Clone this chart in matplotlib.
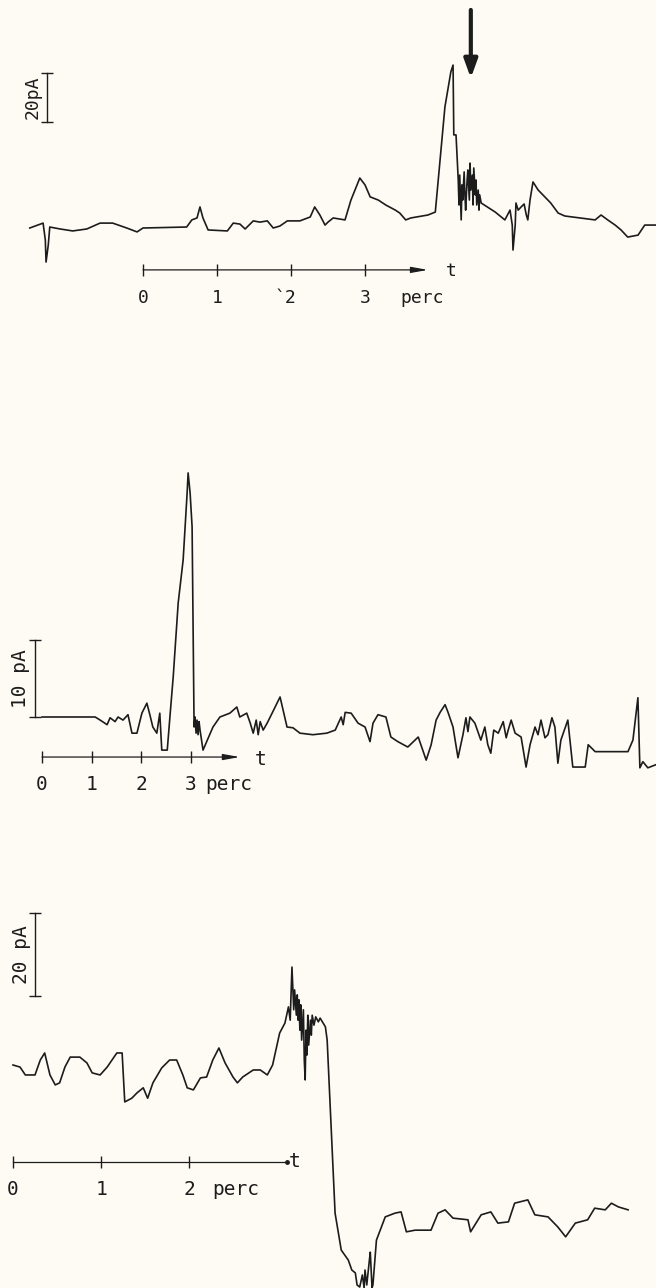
import numpy as np
import matplotlib
matplotlib.use('Agg')
import matplotlib.pyplot as plt

# --- data: (time in s, current in pA) ---
trace1 = [(-1.53, 0.0), (-1.35, 2.0), (-1.32, -4.9), (-1.31, -13.9), (-1.28, -6.9), (-1.26, 0.4),
          (-1.12, -0.4), (-0.95, -1.2), (-0.76, -0.4), (-0.58, 2.0), (-0.41, 2.0), (-0.22, 0.0),
          (-0.08, -1.6), (0.00, 0.0), (0.59, 0.4), (0.66, 3.3), (0.73, 4.1), (0.77, 8.6), (0.81, 4.1),
          (0.88, -0.8), (1.14, -1.2), (1.22, 2.0), (1.31, 1.6), (1.38, -0.4), (1.49, 2.9), (1.58, 2.4),
          (1.68, 2.9), (1.76, 0.0), (1.85, 0.8), (1.95, 2.9), (2.12, 2.9), (2.26, 4.5), (2.32, 8.6),
          (2.39, 5.3), (2.46, 1.2), (2.50, 2.4), (2.57, 4.1), (2.73, 3.3), (2.81, 11.4), (2.93, 20.4),
          (3.00, 17.6), (3.07, 12.7), (3.18, 11.4), (3.28, 9.4), (3.41, 7.3), (3.47, 6.1), (3.55, 3.3),
          (3.62, 4.1), (3.85, 5.3), (3.95, 6.5), (4.08, 49.4), (4.16, 63.7), (4.19, 66.5), (4.20, 38.0),
          (4.23, 38.0), (4.26, 19.6), (4.27, 9.4), (4.28, 21.6), (4.30, 3.3), (4.31, 17.6), (4.32, 11.4),
          (4.34, 22.9), (4.35, 13.5), (4.36, 7.3), (4.38, 19.6), (4.39, 23.7), (4.41, 11.4), (4.42, 26.5),
          (4.43, 15.5), (4.45, 21.6), (4.46, 9.4), (4.47, 24.5), (4.49, 13.5), (4.50, 19.6), (4.51, 9.4),
          (4.53, 15.5), (4.54, 7.3), (4.55, 13.5), (4.57, 10.2), (4.76, 6.5), (4.89, 3.3), (4.96, 7.3),
          (4.99, 1.2), (5.00, -9.0), (5.03, 1.2), (5.04, 10.2), (5.07, 7.3), (5.11, 8.6), (5.15, 9.8),
          (5.18, 5.3), (5.20, 3.3), (5.23, 11.4), (5.27, 18.8), (5.34, 15.5), (5.43, 12.7), (5.51, 10.2),
          (5.61, 6.1), (5.70, 4.9), (6.11, 3.3), (6.19, 5.3), (6.28, 3.3), (6.38, 1.2), (6.46, -0.8),
          (6.55, -3.7), (6.69, -2.9), (6.78, 1.2), (6.93, 1.2)]

trace2 = [(0.00, 0.0), (1.07, 0.0), (1.17, -0.4), (1.31, -1.0), (1.37, -0.1), (1.47, -0.6), (1.53, 0.0),
          (1.63, -0.4), (1.73, 0.3), (1.81, -2.1), (1.91, -2.1), (2.01, 0.5), (2.11, 1.8), (2.17, 0.3),
          (2.23, -1.3), (2.31, -2.1), (2.37, 0.5), (2.41, -4.3), (2.52, -4.3), (2.58, 0.5), (2.64, 5.2),
          (2.74, 14.8), (2.84, 20.4), (2.92, 29.1), (2.94, 31.7), (2.98, 29.1), (3.02, 24.7), (3.04, 11.7),
          (3.06, -1.3), (3.08, 0.0), (3.10, -2.1), (3.12, -0.4), (3.14, -2.3), (3.16, -0.6), (3.18, -1.7),
          (3.24, -4.3), (3.44, -1.3), (3.58, 0.0), (3.78, 0.5), (3.92, 1.3), (3.98, 0.0), (4.12, 0.5),
          (4.19, -0.8), (4.25, -2.1), (4.31, -0.4), (4.35, -2.3), (4.39, -0.6), (4.45, -1.7), (4.53, -0.8),
          (4.63, 0.5), (4.79, 2.6), (4.93, -1.3), (5.05, -1.4), (5.19, -2.1), (5.45, -2.3), (5.73, -2.1),
          (5.90, -1.7), (6.02, 0.0), (6.06, -1.0), (6.10, 0.6), (6.22, 0.5), (6.36, -0.8), (6.50, -1.3),
          (6.60, -3.2), (6.66, -0.8), (6.76, 0.3), (6.92, 0.0), (7.02, -2.6), (7.16, -3.2), (7.36, -3.9),
          (7.57, -2.6), (7.73, -5.6), (7.83, -3.6), (7.93, -0.4), (8.01, 0.6), (8.11, 1.6), (8.17, 0.6),
          (8.27, -1.3), (8.37, -5.3), (8.47, -2.3), (8.53, -0.1), (8.57, -1.9), (8.61, 0.0), (8.71, -0.8),
          (8.83, -3.0), (8.91, -1.3), (8.97, -3.6), (9.03, -4.7), (9.09, -1.7), (9.18, -2.1), (9.28, -0.6),
          (9.34, -2.7), (9.38, -1.7), (9.44, -0.4), (9.52, -2.1), (9.64, -2.6), (9.74, -6.5), (9.82, -3.6),
          (9.92, -1.3), (9.98, -2.3), (10.04, -0.4), (10.12, -2.7), (10.18, -2.3), (10.26, -0.1),
          (10.32, -1.3), (10.38, -6.0), (10.44, -3.0), (10.58, -0.4), (10.68, -6.5), (10.93, -6.5),
          (10.99, -3.6), (11.13, -4.5), (11.79, -4.5), (11.89, -3.0), (11.99, 2.5), (12.03, -6.6),
          (12.09, -5.8), (12.19, -6.6), (12.35, -6.2)]

trace3 = [(0.00, 0.0), (0.08, -0.5), (0.14, -2.4), (0.25, -2.4), (0.31, 1.2), (0.36, 2.9), (0.42, -2.4),
          (0.48, -4.8), (0.53, -4.3), (0.59, -0.5), (0.65, 1.9), (0.76, 1.9), (0.84, 0.5), (0.90, -1.9),
          (0.99, -2.4), (1.07, -0.5), (1.18, 2.9), (1.24, 2.9), (1.27, -8.9), (1.35, -8.0), (1.41, -6.7),
          (1.48, -5.5), (1.53, -8.0), (1.59, -4.3), (1.69, -0.7), (1.78, 1.2), (1.86, 1.2), (1.93, -2.4),
          (1.98, -5.5), (2.05, -6.0), (2.13, -3.1), (2.20, -2.9), (2.27, 1.2), (2.34, 4.1), (2.41, 0.5),
          (2.50, -2.9), (2.55, -4.3), (2.61, -2.9), (2.73, -1.2), (2.81, -1.2), (2.89, -2.4), (2.95, 0.0),
          (3.03, 7.7), (3.09, 10.1), (3.13, 14.0), (3.15, 10.8), (3.17, 23.6), (3.19, 13.3), (3.20, 18.1),
          (3.22, 12.0), (3.23, 16.9), (3.24, 10.8), (3.25, 15.7), (3.26, 8.4), (3.27, 14.5), (3.28, 6.0),
          (3.30, 13.3), (3.31, 1.2), (3.32, -3.6), (3.33, 8.4), (3.34, 2.4), (3.35, 12.0), (3.36, 4.8),
          (3.38, 10.8), (3.39, 7.2), (3.40, 12.0), (3.42, 9.6), (3.44, 11.6), (3.47, 10.4), (3.49, 11.3),
          (3.55, 9.2), (3.57, 6.0), (3.66, -35.7), (3.73, -44.6), (3.77, -45.8), (3.81, -47.0),
          (3.85, -49.4), (3.89, -50.1), (3.91, -53.0), (3.94, -53.5), (3.97, -50.6), (3.99, -53.7),
          (4.00, -49.4), (4.02, -53.0), (4.05, -47.0), (4.06, -45.1), (4.08, -53.7), (4.09, -53.0),
          (4.13, -42.2), (4.23, -36.6), (4.34, -35.7), (4.41, -35.4), (4.47, -40.2), (4.57, -39.8),
          (4.75, -39.8), (4.83, -35.7), (4.91, -34.9), (5.00, -36.9), (5.17, -37.3), (5.20, -40.2),
          (5.32, -36.1), (5.43, -35.4), (5.51, -38.1), (5.63, -37.8), (5.70, -33.3), (5.85, -32.5),
          (5.93, -36.1), (6.08, -36.6), (6.19, -39.0), (6.28, -41.4), (6.39, -38.1), (6.53, -37.3),
          (6.61, -34.5), (6.73, -34.9), (6.80, -33.3), (6.88, -34.2), (6.99, -34.9)]

ticks1 = [0, 1, 2, 3]
tick_labels1 = ['0', '1', '`2', '3']
ticks2 = [0, 1, 2, 3]
tick_labels2 = ['0', '1', '2', '3']
ticks3 = [0, 1, 2]
tick_labels3 = ['0', '1', '2']
bar_sizes = [20, 10, 20]          # pA
bar_labels = ['20pA', '10 pA', '20 pA']

INK = '#1c1c1c'
BG = '#fdfbf4'
FONT = 'DejaVu Sans Mono'
W, H = 656, 1288

fig = plt.figure(figsize=(W / 100, H / 100), dpi=100)
fig.patch.set_facecolor(BG)


def panel(x0, px_s, y0, px_pa):
    # x0, y0 = pixel spot of t=0 / I=0; px_s, px_pa = pixels per second / per pA
    ax = fig.add_axes([0, 0, 1, 1], facecolor='none')
    ax.set_xlim(-x0 / px_s, (W - x0) / px_s)
    ax.set_ylim((y0 - H) / px_pa, y0 / px_pa)
    ax.axis('off')
    return ax


def txt(ax, x, y, s, fs=13, ha='center', **kw):
    ax.text(x, y, s, ha=ha, va='center', fontsize=fs, family=FONT, color=INK, **kw)


def time_axis(ax, t_end, level, ticks, labels, lab_level, arrow=True, fs=13):
    if arrow:
        ax.annotate('', xy=(t_end, level), xytext=(0, level),
                    arrowprops=dict(arrowstyle='-|>,head_length=1.0,head_width=0.18',
                                    lw=0.9, color=INK, shrinkA=0, shrinkB=0))
    else:
        ax.plot([0, t_end], [level, level], color=INK, lw=0.9)
        ax.plot([t_end], [level], 'o', ms=2.5, color=INK)
    ax.plot(ticks, [level] * len(ticks), ls='none', marker='|', ms=9, mew=1.0, color=INK)
    for t, lab in zip(ticks, labels):
        txt(ax, t, lab_level, lab, fs=fs)


def scale_bar(ax, t, base, size, label, lab_t, fs=13):
    ax.plot([t, t], [base, base + size], color=INK, lw=1.0)
    ax.plot([t, t], [base, base + size], ls='none', marker='_', ms=8, mew=1.0, color=INK)
    txt(ax, lab_t, base + size / 2, label, fs=fs, rotation=90)


# panel 1
ax1 = panel(143, 74, 228, 2.45)
t, i = np.array(trace1).T
ax1.plot(t, i, color=INK, lw=1.2)
time_axis(ax1, 3.85, -17.1, ticks1, ['0', '1', '', '3'], -28.6)
txt(ax1, 1.93, -28.6, tick_labels1[2])
txt(ax1, 3.77, -28.6, 'perc')
txt(ax1, 4.16, -17.6, 't')
scale_bar(ax1, -1.30, 43.3, bar_sizes[0], bar_labels[0], -1.49)
ax1.annotate('', xy=(4.43, 61.2), xytext=(4.43, 89),
             arrowprops=dict(arrowstyle='-|>,head_length=1.1,head_width=0.4',
                             lw=3.0, color=INK, shrinkA=0, shrinkB=0))

# panel 2
ax2 = panel(42, 49.7, 717, 7.7)
t, i = np.array(trace2).T
ax2.plot(t, i, color=INK, lw=1.2)
time_axis(ax2, 3.98, -5.2, ticks2, tick_labels2, -8.8, fs=14)
txt(ax2, 3.28, -8.8, 'perc', fs=14, ha='left')
txt(ax2, 4.39, -5.5, 't', fs=14)
scale_bar(ax2, -0.14, 0, bar_sizes[1], bar_labels[1], -0.44, fs=14)

# panel 3
ax3 = panel(13, 88, 1065, 4.15)
t, i = np.array(trace3).T
ax3.plot(t, i, color=INK, lw=1.2)
time_axis(ax3, 3.11, -23.4, ticks3, tick_labels3, -30.1, arrow=False, fs=14)
txt(ax3, 2.26, -30.1, 'perc', fs=14, ha='left')
txt(ax3, 3.13, -23.2, 't', fs=14, ha='left')
scale_bar(ax3, 0.25, 16.6, bar_sizes[2], bar_labels[2], 0.10, fs=14)

fig.savefig('out.png', dpi=100, facecolor=BG)
